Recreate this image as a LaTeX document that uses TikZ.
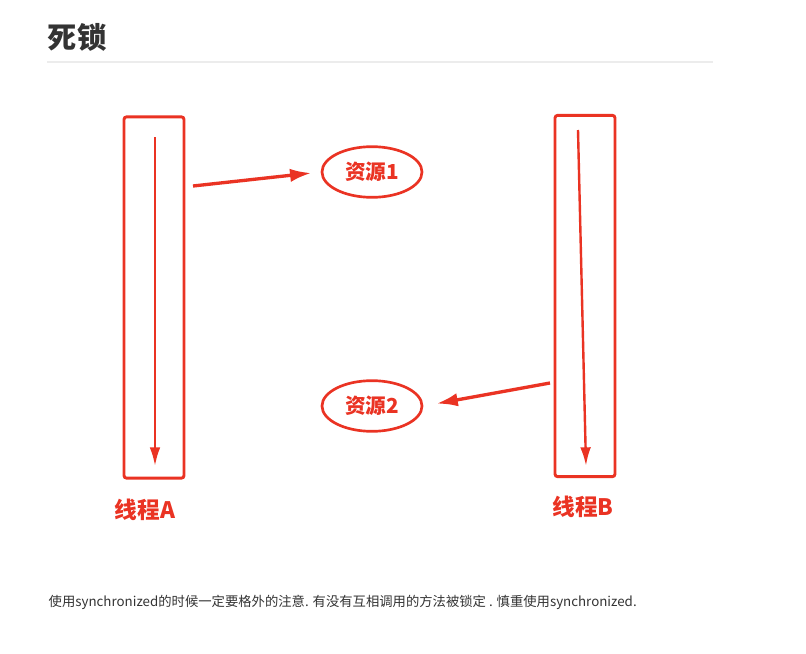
\documentclass[tikz,border=0pt]{standalone}
\usepackage{fontspec}
\setmainfont{Noto Sans CJK SC}
\usepackage{xcolor}
\usepackage{tikz}
\usetikzlibrary{shapes.geometric, arrows.meta, positioning, calc}
\definecolor{lockred}{RGB}{234, 51, 35}
\definecolor{titlegray}{RGB}{51, 51, 51}
\definecolor{rulegray}{RGB}{236, 236, 236}
\tikzset{
    thread/.style={rectangle, rounded corners=2pt, draw=lockred, line width=2.2pt,
        minimum width=45pt, minimum height=271pt, inner sep=0pt},
    resource/.style={ellipse, draw=lockred, line width=2pt,
        minimum width=75pt, minimum height=38pt, inner sep=0pt,
        text=lockred, font=\bfseries\fontsize{15.5}{18}\selectfont},
    threadlabel/.style={text=lockred, font=\bfseries\fontsize{17}{20}\selectfont},
    flow/.style={draw=lockred, line width=1.8pt, -{Latex[length=14pt, width=8pt]}},
    grab/.style={draw=lockred, line width=2.5pt, -{Latex[length=16pt, width=10pt]}},
}

\begin{document}
\begin{tikzpicture}[x=0.75pt, y=-0.75pt]
    \useasboundingbox (0,0) rectangle (806,653);
    % heading
    \node[anchor=west, text=titlegray, font=\bfseries\fontsize{22}{26}\selectfont]
        (title) at (43,37) {死锁};
    \draw[rulegray, line width=0.8pt] (47,62) -- (713,62);

    % threads
    \node[thread] (threadA) at (154,297.5) {};
    \node[thread] (threadB) at (585,296) {};
    \node[threadlabel] (labelA) at (145,510) {线程A};
    \node[threadlabel] (labelB) at (583,507) {线程B};
    \coordinate (runA) at (155,137);
    \coordinate (endA) at (155,466);
    \coordinate (runB) at (578,130);
    \coordinate (endB) at (586,466);
    \draw[flow] (runA) -- (endA);
    \draw[flow] (runB) -- (endB);

    % resources
    \node[resource] (res1) at (372,172) {资源1};
    \node[resource] (res2) at (372,406) {资源2};
    \coordinate (grabA) at (193,186);
    \coordinate (grabB) at (550,383);
    \draw[grab, shorten >=7pt] (grabA) -- (res1.west);
    \draw[grab, shorten >=10pt] (grabB) -- (res2.east);

    % note
    \node[anchor=west, text=titlegray, font=\fontsize{10}{12}\selectfont]
        (note) at (44,602) {使用synchronized的时候一定要格外的注意. 有没有互相调用的方法被锁定 .  慎重使用synchronized.};
\end{tikzpicture}
\end{document}
